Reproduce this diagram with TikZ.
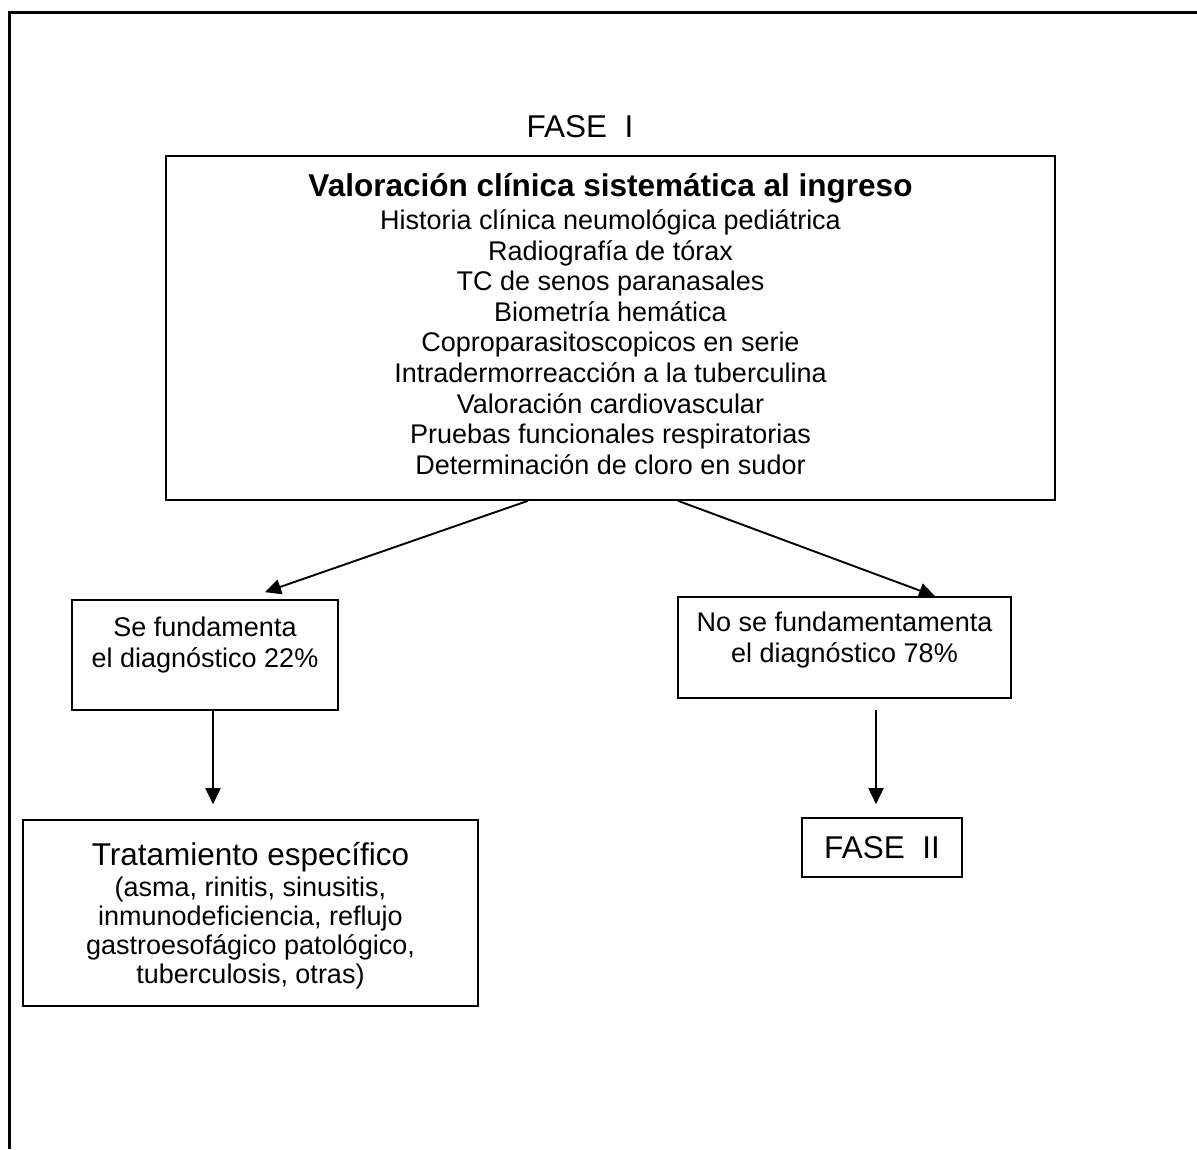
\documentclass[tikz,border=0pt]{standalone}
\usepackage{fontspec}
\setmainfont{Liberation Sans}
\usepackage{tikz}
\usetikzlibrary{arrows.meta}
\newcommand{\regtxt}{\fontsize{27}{30.6}\selectfont}
\newcommand{\bigtxt}{\fontsize{31.5}{34}\selectfont}
\tikzset{box/.style={draw,rectangle,line width=1.6pt,align=center,inner sep=0pt,font=\regtxt},
    link/.style={-{Triangle[length=16pt,width=15pt]},line width=1.9pt},
    frame/.style={line width=3pt},
    phase/.style={font=\bigtxt,inner sep=0pt}}

\begin{document}
\begin{tikzpicture}[x=1pt,y=-1pt]
            \useasboundingbox (0,0) rectangle (1197,1149);
            \draw[frame] (9,1149) -- (9,12) -- (1197,12);
            \node[phase] (fase1) at (580,127) {FASE\ \ I};
            \node[box,minimum width=889pt,minimum height=344pt,text depth=8pt] (valor) at (610.5,328)
            {{\bigtxt\bfseries Valoración clínica sistemática al ingreso}\\[2pt]
            Historia clínica neumológica pediátrica\\
            Radiografía de tórax\\
            TC de senos paranasales\\
            Biometría hemática\\
            Coproparasitoscopicos en serie\\
            Intradermorreacción a la tuberculina\\
            Valoración cardiovascular\\
            Pruebas funcionales respiratorias\\
            Determinación de cloro en sudor};
            \node[box,minimum width=266pt,minimum height=110pt,text depth=25pt] (se) at (205,655)
            {Se fundamenta\\el diagnóstico 22\%};
            \node[box,minimum width=333pt,minimum height=101pt,text depth=20pt] (no) at (844.5,647.5)
            {No se fundamentamenta\\el diagnóstico 78\%};
            \node[box,minimum width=455pt,minimum height=186pt,text depth=0pt,font={\fontsize{27}{29}\selectfont}] (trat) at (250.5,913)
            {{\bigtxt Tratamiento específico}\\[2pt]
            (asma, rinitis, sinusitis,\\
            inmunodeficiencia, reflujo\\
            gastroesofágico patológico,\\
            tuberculosis, otras)};
            \node[box,font=\bigtxt,minimum width=160pt,minimum height=59pt] (fase2) at (882,847.5) {FASE\ \ II};
            \draw[link] ([xshift=-82.5pt]valor.south) -- ([xshift=60pt,yshift=7pt]se.north);
            \draw[link] ([xshift=67.5pt]valor.south) -- ([xshift=90.5pt]no.north);
            \draw[link] ([xshift=8pt]se.south) -- ([xshift=-37.5pt,yshift=15pt]trat.north);
            \draw[link] ([xshift=31.5pt,yshift=-11pt]no.south) -- ([xshift=-6pt,yshift=13pt]fase2.north);
        \end{tikzpicture}
\end{document}
